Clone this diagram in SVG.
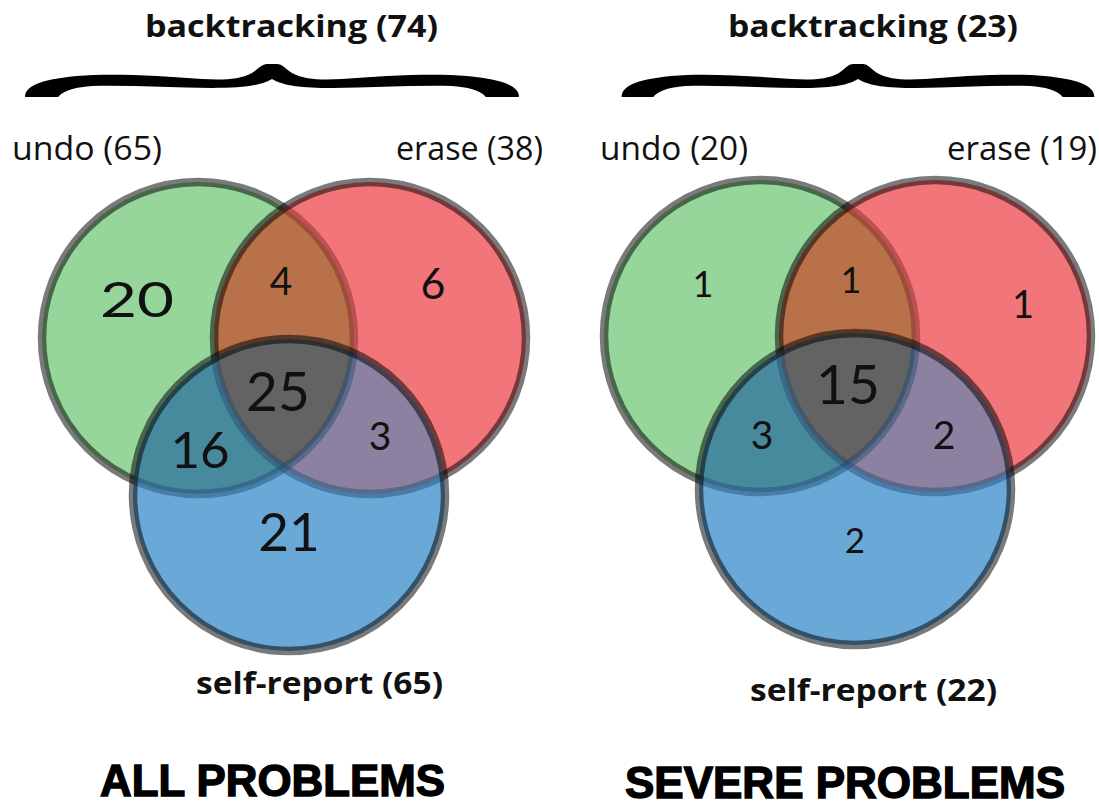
<svg xmlns="http://www.w3.org/2000/svg" width="1099" height="806" viewBox="0 0 1099 806">
  <style>
    .lab { font-family: "Open Sans", "Liberation Sans", sans-serif; font-size: 32px; fill: #111; }
    .bold { font-weight: 700; font-size: 31px; }
    .num { font-family: Lato, "Open Sans", sans-serif; fill: #111; text-anchor: middle; }
    .title { font-family: "Liberation Sans Narrow", "Liberation Sans", sans-serif; font-weight: 700; font-size: 44px; fill: #000; stroke: #000; stroke-width: 1.4; }
    .g { fill: #96d69b; }
    .r { fill: #f2757a; }
    .b { fill: #69a8d7; }
    .gr { fill: #b9714a; }
    .gb { fill: #47899d; }
    .rb { fill: #8d81a1; }
    .grb { fill: #636363; }
    .ln { fill: none; stroke: #000; stroke-opacity: 0.52; stroke-width: 8.5; }
    .ln-r { fill: none; stroke: #7d2424; stroke-opacity: 0.45; stroke-width: 8.5; }
    .ln-b { fill: none; stroke: #1d4a70; stroke-opacity: 0.45; stroke-width: 8.5; }
    .brace { fill: #000; }
  </style>
  <defs>
    <!-- curly brace, centred on x = 0 -->
    <path id="brace-shape" d="M0,64 L-5,64 C-10,64 -14,69 -20,73 C-33,80 -50,80 -70,79 C-110,76 -160,73 -195,76 C-225,79 -247,84 -247,97 L-214,97 C-208,90 -195,87 -180,86 C-140,85 -100,88 -60,88 C-30,88 -12,86 0,79 C12,86 30,88 60,88 C100,88 140,85 180,86 C195,87 208,90 214,97 L247,97 C247,84 225,79 195,76 C160,73 110,76 70,79 C50,80 33,80 20,73 C14,69 10,64 5,64 Z"/>

    <!-- left diagram set outlines -->
    <clipPath id="cl-Lg"><circle cx="198" cy="338" r="156"/></clipPath>
    <clipPath id="cl-Lr"><circle cx="370" cy="338" r="156"/></clipPath>
    <clipPath id="cl-Lb"><circle cx="289" cy="495" r="156"/></clipPath>
    <mask id="m-LnoB" maskUnits="userSpaceOnUse" x="0" y="0" width="1099" height="806">
      <rect width="1099" height="806" fill="#fff"/>
      <circle cx="289" cy="495" r="156" fill="#000"/>
    </mask>
    <mask id="m-LnoRB" maskUnits="userSpaceOnUse" x="0" y="0" width="1099" height="806">
      <rect width="1099" height="806" fill="#fff"/>
      <circle cx="370" cy="338" r="156" fill="#000"/>
      <circle cx="289" cy="495" r="156" fill="#000"/>
    </mask>

    <!-- right diagram set outlines -->
    <clipPath id="cl-Rg"><circle cx="760" cy="336" r="156"/></clipPath>
    <clipPath id="cl-Rr"><circle cx="935" cy="336" r="156"/></clipPath>
    <clipPath id="cl-Rb"><circle cx="855" cy="489" r="156"/></clipPath>
    <mask id="m-RnoB" maskUnits="userSpaceOnUse" x="0" y="0" width="1099" height="806">
      <rect width="1099" height="806" fill="#fff"/>
      <circle cx="855" cy="489" r="156" fill="#000"/>
    </mask>
    <mask id="m-RnoRB" maskUnits="userSpaceOnUse" x="0" y="0" width="1099" height="806">
      <rect width="1099" height="806" fill="#fff"/>
      <circle cx="935" cy="336" r="156" fill="#000"/>
      <circle cx="855" cy="489" r="156" fill="#000"/>
    </mask>
  </defs>

  <rect width="1099" height="806" fill="#fff"/>

  <!-- ===== All problems ===== -->
  <g id="all-problems">
    <g id="all-backtracking">
      <text class="lab bold" x="145" y="37" textLength="293" lengthAdjust="spacingAndGlyphs">backtracking (74)</text>
      <use href="#brace-shape" class="brace" transform="translate(272,0)"/>
    </g>

    <g id="all-undo">
      <circle class="g" cx="198" cy="338" r="156"/>
      <text class="lab" x="12" y="160" textLength="150" lengthAdjust="spacingAndGlyphs">undo (65)</text>
    </g>
    <g id="all-erase">
      <circle class="r" cx="370" cy="338" r="156"/>
      <circle class="gr" cx="370" cy="338" r="156" clip-path="url(#cl-Lg)"/>
      <text class="lab" x="396" y="160" textLength="147" lengthAdjust="spacingAndGlyphs">erase (38)</text>
    </g>
    <g id="all-self-report">
      <circle class="b" cx="289" cy="495" r="156"/>
      <circle class="gb" cx="289" cy="495" r="156" clip-path="url(#cl-Lg)"/>
      <circle class="rb" cx="289" cy="495" r="156" clip-path="url(#cl-Lr)"/>
      <g clip-path="url(#cl-Lg)">
        <circle class="grb" cx="289" cy="495" r="156" clip-path="url(#cl-Lr)"/>
      </g>
      <text class="lab bold" x="196" y="694" textLength="247" lengthAdjust="spacingAndGlyphs">self-report (65)</text>
    </g>

    <!-- outlines: pieces lying under a later fill get that fill's tint -->
    <g id="all-outlines">
      <circle class="ln" cx="198" cy="338" r="156" mask="url(#m-LnoRB)"/>
      <g clip-path="url(#cl-Lr)"><circle class="ln-r" cx="198" cy="338" r="156" mask="url(#m-LnoB)"/></g>
      <g clip-path="url(#cl-Lb)"><circle class="ln-b" cx="198" cy="338" r="156"/></g>
      <circle class="ln" cx="370" cy="338" r="156" mask="url(#m-LnoB)"/>
      <g clip-path="url(#cl-Lb)"><circle class="ln-b" cx="370" cy="338" r="156"/></g>
      <circle class="ln" cx="289" cy="495" r="156"/>
    </g>

    <g id="all-counts">
      <text class="num" x="137" y="317" font-size="49" textLength="74" lengthAdjust="spacingAndGlyphs">20</text>
      <text class="num" x="281" y="295" font-size="39">4</text>
      <text class="num" x="433" y="299" font-size="43">6</text>
      <text class="num" x="278" y="411" font-size="55">25</text>
      <text class="num" x="200" y="468" font-size="51">16</text>
      <text class="num" x="380" y="450" font-size="39">3</text>
      <text class="num" x="289" y="551" font-size="53">21</text>
    </g>

    <text class="title" x="100" y="796" textLength="345" lengthAdjust="spacingAndGlyphs">ALL PROBLEMS</text>
  </g>

  <!-- ===== Severe problems ===== -->
  <g id="severe-problems">
    <g id="severe-backtracking">
      <text class="lab bold" x="728" y="37" textLength="290" lengthAdjust="spacingAndGlyphs">backtracking (23)</text>
      <use href="#brace-shape" class="brace" transform="translate(858,0) scale(0.957,1)"/>
    </g>

    <g id="severe-undo">
      <circle class="g" cx="760" cy="336" r="156"/>
      <text class="lab" x="600" y="160" textLength="148" lengthAdjust="spacingAndGlyphs">undo (20)</text>
    </g>
    <g id="severe-erase">
      <circle class="r" cx="935" cy="336" r="156"/>
      <circle class="gr" cx="935" cy="336" r="156" clip-path="url(#cl-Rg)"/>
      <text class="lab" x="947" y="160" textLength="150" lengthAdjust="spacingAndGlyphs">erase (19)</text>
    </g>
    <g id="severe-self-report">
      <circle class="b" cx="855" cy="489" r="156"/>
      <circle class="gb" cx="855" cy="489" r="156" clip-path="url(#cl-Rg)"/>
      <circle class="rb" cx="855" cy="489" r="156" clip-path="url(#cl-Rr)"/>
      <g clip-path="url(#cl-Rg)">
        <circle class="grb" cx="855" cy="489" r="156" clip-path="url(#cl-Rr)"/>
      </g>
      <text class="lab bold" x="750" y="701" textLength="247" lengthAdjust="spacingAndGlyphs">self-report (22)</text>
    </g>

    <g id="severe-outlines">
      <circle class="ln" cx="760" cy="336" r="156" mask="url(#m-RnoRB)"/>
      <g clip-path="url(#cl-Rr)"><circle class="ln-r" cx="760" cy="336" r="156" mask="url(#m-RnoB)"/></g>
      <g clip-path="url(#cl-Rb)"><circle class="ln-b" cx="760" cy="336" r="156"/></g>
      <circle class="ln" cx="935" cy="336" r="156" mask="url(#m-RnoB)"/>
      <g clip-path="url(#cl-Rb)"><circle class="ln-b" cx="935" cy="336" r="156"/></g>
      <circle class="ln" cx="855" cy="489" r="156"/>
    </g>

    <g id="severe-counts">
      <text class="num" x="703" y="297" font-size="36">1</text>
      <text class="num" x="851" y="293" font-size="36">1</text>
      <text class="num" x="1023" y="318" font-size="38">1</text>
      <text class="num" x="848" y="404" font-size="55">15</text>
      <text class="num" x="762" y="449" font-size="39">3</text>
      <text class="num" x="944" y="449" font-size="39">2</text>
      <text class="num" x="855" y="553" font-size="35">2</text>
    </g>

    <text class="title" x="625" y="798" textLength="440" lengthAdjust="spacingAndGlyphs">SEVERE PROBLEMS</text>
  </g>

  <!-- no connectors between the sets -->
  <g id="connectors"/>
</svg>
